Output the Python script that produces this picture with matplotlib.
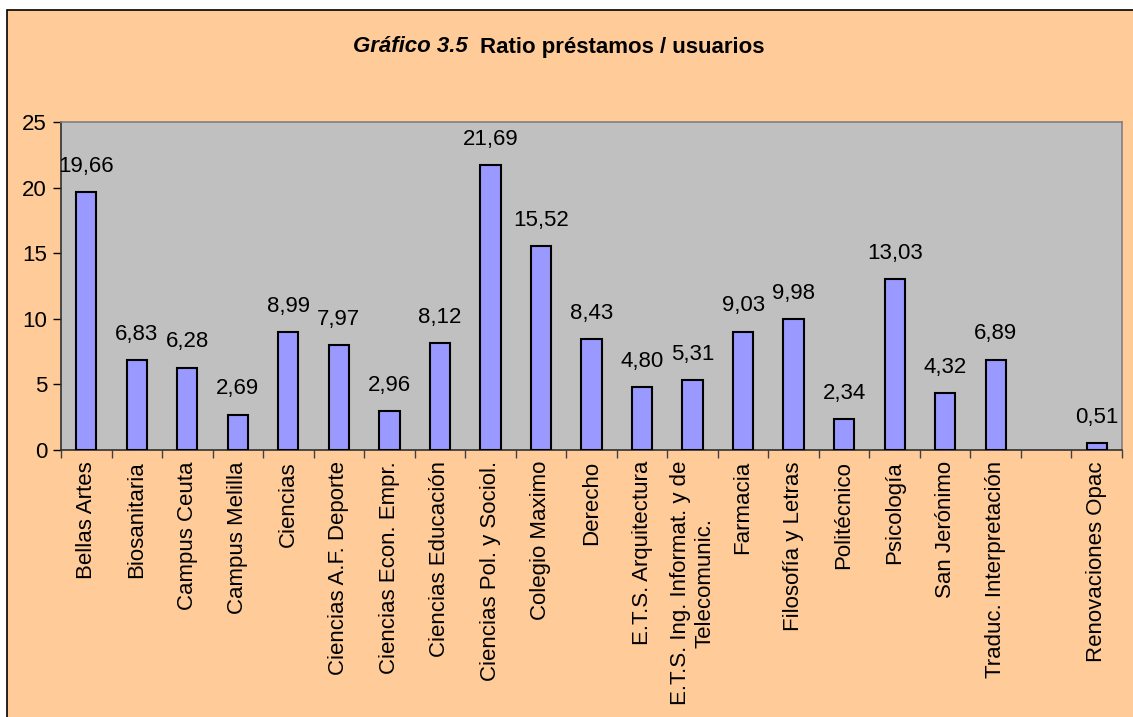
import matplotlib
matplotlib.use("Agg")
import matplotlib.pyplot as plt
import numpy as np
from matplotlib.patches import Rectangle

categories = ["Bellas Artes", "Biosanitaria", "Campus Ceuta", "Campus Melilla", "Ciencias",
              "Ciencias A.F. Deporte", "Ciencias Econ. Empr.", "Ciencias Educación",
              "Ciencias Pol. y Sociol.", "Colegio Maximo", "Derecho", "E.T.S. Arquitectura",
              "E.T.S. Ing. Informat. y de\nTelecomunic.", "Farmacia", "Filosofía y Letras",
              "Politécnico", "Psicología", "San Jerónimo", "Traduc. Interpretación", "",
              "Renovaciones Opac"]
values = [19.66, 6.83, 6.28, 2.69, 8.99, 7.97, 2.96, 8.12, 21.69, 15.52, 8.43, 4.80,
          5.31, 9.03, 9.98, 2.34, 13.03, 4.32, 6.89, None, 0.51]
y_ticks = [0, 5, 10, 15, 20, 25]

plt.rcParams['font.family'] = ['Liberation Sans', 'DejaVu Sans']

fig = plt.figure(figsize=(11.33, 7.17), dpi=100)
fig.patch.set_facecolor('white')
# outer chart area
bg = Rectangle((7/1133, -0.05), 1.2, 1 - 10/717 + 0.05, transform=fig.transFigure,
               facecolor='#FFCC99', edgecolor='black', linewidth=1.2, zorder=-5)
fig.patches.append(bg)

ax = fig.add_axes([61/1133, 1 - 450/717, (1122 - 61)/1133, (450 - 122)/717])
ax.set_zorder(2)
ax.set_facecolor('#C0C0C0')

x = np.arange(len(categories))
for xi, v in zip(x, values):
    if v is None:
        continue
    ax.bar(xi, v, width=0.4, color='#9999FF', edgecolor='black', linewidth=1.5, zorder=3)
    ax.annotate(f"{v:.2f}".replace('.', ','), (xi, v), xytext=(0, 11), textcoords='offset points',
                ha='center', va='bottom', fontsize=16)

ax.set_xlim(-0.5, len(categories) - 0.5)
ax.set_ylim(0, 25)
ax.set_yticks(y_ticks)
ax.set_yticklabels([str(t) for t in y_ticks], fontsize=16)
ax.set_xticks(x)
ax.set_xticklabels(categories, rotation=90, fontsize=16, va='top', ha='center', multialignment='center')
ax.set_xticks(np.arange(-0.5, len(categories)), minor=True)
ax.tick_params(axis='x', which='major', length=0, pad=8)
ax.tick_params(axis='x', which='minor', length=6, width=1, color='#404040', direction='out')
ax.tick_params(axis='y', length=6, width=1, direction='out', pad=4)

for s in ['top', 'right']:
    ax.spines[s].set_color('#808080')
    ax.spines[s].set_linewidth(1.2)
for s in ['left', 'bottom']:
    ax.spines[s].set_color('#303030')
    ax.spines[s].set_linewidth(1.2)

fig.text(468/1133, 1 - 47/717, "Gráfico 3.5", fontsize=16, fontweight='bold', fontstyle='italic',
         ha='right', va='center')
fig.text(480/1133, 1 - 47/717, "Ratio préstamos / usuarios", fontsize=16, fontweight='bold',
         ha='left', va='center')

fig.savefig("out.png", dpi=100, facecolor=fig.get_facecolor())
